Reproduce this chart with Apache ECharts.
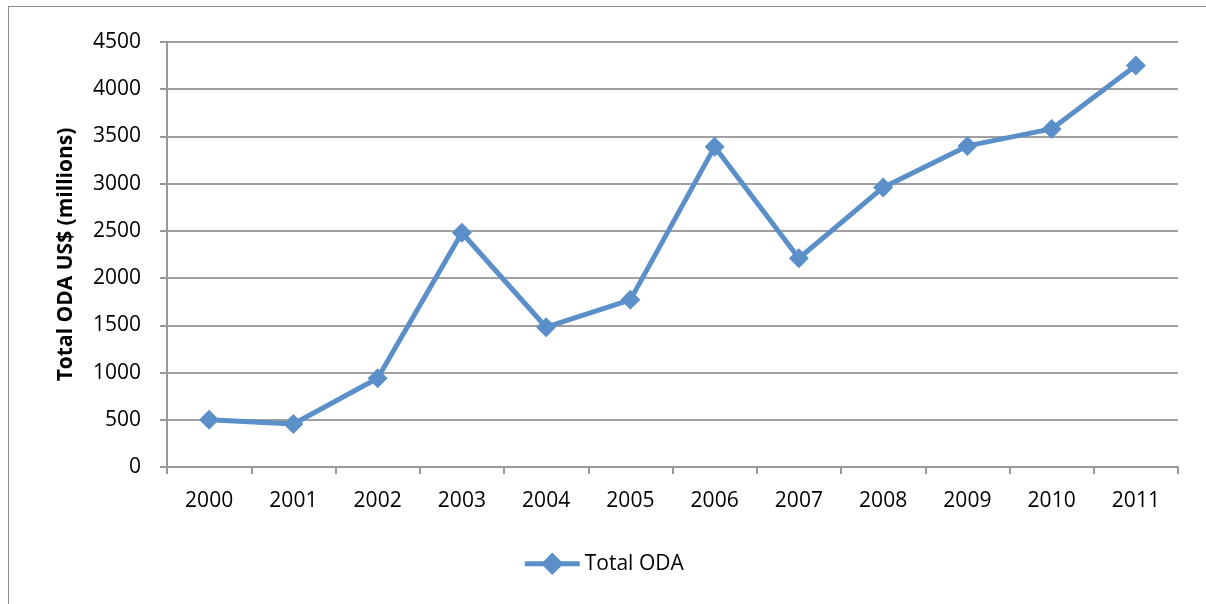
<!DOCTYPE html>
<html><head><meta charset="utf-8">
<script src="https://cdn.jsdelivr.net/npm/echarts@6/dist/echarts.min.js"></script>
<style>
html,body{margin:0;padding:0;background:#fff;}
#frame{position:absolute;left:8px;top:6px;width:1210px;height:610px;border:1.5px solid #8c8c8c;box-sizing:border-box;}
#c{position:absolute;left:0;top:0;width:1206px;height:604px;}
</style></head><body>
<div id="frame"></div>
<div id="c"></div>
<script>
const years = ['2000','2001','2002','2003','2004','2005','2006','2007','2008','2009','2010','2011'];
const totalODA = [500, 455, 940, 2480, 1480, 1770, 3390, 2210, 2960, 3400, 3580, 4250];
const seriesName = 'Total ODA';
const yTitle = 'Total ODA US$ (millions)';

const chart = echarts.init(document.getElementById('c'));
const font = '"Open Sans", sans-serif';
chart.setOption({
  animation: false,
  grid: {left: 167, right: 28, top: 42, bottom: 137, containLabel: false},
  xAxis: {
    type: 'category', data: years, boundaryGap: true,
    axisLine: {lineStyle: {color: '#999', width: 2}},
    axisTick: {show: true, length: 7, lineStyle: {color: '#999', width: 2}},
    axisLabel: {color: '#000', fontSize: 21, fontFamily: font, margin: 24}
  },
  yAxis: {
    type: 'value', min: 0, max: 4500, interval: 500,
    name: yTitle, nameLocation: 'middle', nameGap: 90, nameRotate: 90,
    nameTextStyle: {color: '#000', fontSize: 21, fontWeight: 'bold', fontFamily: font},
    axisLine: {show: true, lineStyle: {color: '#999', width: 2}},
    axisTick: {show: true, length: 7, lineStyle: {color: '#999', width: 2}},
    axisLabel: {color: '#000', fontSize: 21, fontFamily: font, margin: 26, formatter: v => String(v)},
    splitLine: {lineStyle: {color: '#a0a0a0', width: 2}}
  },
  legend: {
    bottom: 24, left: 'center', itemWidth: 55, itemHeight: 28, itemGap: 5,
    textStyle: {color: '#000', fontSize: 21, fontFamily: font},
    lineStyle: {width: 5},
    data: [seriesName]
  },
  series: [{
    name: seriesName, type: 'line', data: totalODA,
    symbol: 'diamond', symbolSize: 20,
    lineStyle: {color: '#5b8fc9', width: 5},
    itemStyle: {color: '#5b8fc9'}
  }]
});
</script>
</body></html>
